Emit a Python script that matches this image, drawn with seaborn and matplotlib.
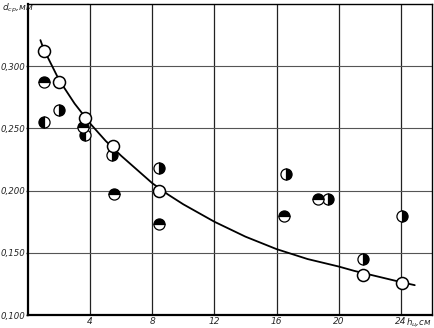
import numpy as np
import matplotlib
matplotlib.use('Agg')
import matplotlib.pyplot as plt
import pandas as pd
import seaborn as sns

# fitted curve
curve_h = [0.8, 1, 2, 3, 4, 5, 6, 7, 8, 9, 10, 11, 12, 13, 14, 15, 16, 17, 18,
           19, 20, 21, 22, 23, 24, 24.9]
curve_d = [0.321, 0.314, 0.289, 0.270, 0.254, 0.240, 0.228, 0.217, 0.206, 0.197,
           0.189, 0.182, 0.175, 0.169, 0.163, 0.158, 0.153, 0.149, 0.145, 0.142,
           0.139, 0.1355, 0.1325, 0.1295, 0.1265, 0.124]

# open circles (on the curve)
open_h = [1.0, 2.0, 3.65, 5.5, 8.45, 21.6, 24.1]
open_d = [0.312, 0.287, 0.258, 0.236, 0.200, 0.132, 0.126]

# half-filled circles, with the side that is black
half_h = [1.0, 1.0, 2.0, 3.55, 3.65, 5.4, 5.55, 8.45, 8.45, 16.6, 16.5, 18.7, 19.3, 21.6, 24.1]
half_d = [0.287, 0.255, 0.265, 0.251, 0.245, 0.229, 0.197, 0.218, 0.173, 0.213, 0.180, 0.193, 0.193, 0.145, 0.180]
half_side = ['top', 'left', 'right', 'top', 'left', 'right', 'top', 'right', 'top',
             'right', 'top', 'top', 'right', 'right', 'right']

xticks = [4, 8, 12, 16, 20, 24]
yticks = [0.100, 0.150, 0.200, 0.250, 0.300]
ytick_labels = ['0,100', '0,150', '0,200', '0,250', '0,300']

curve_df = pd.DataFrame({'h': curve_h, 'd': curve_d})
open_df = pd.DataFrame({'h': open_h, 'd': open_d})
half_df = pd.DataFrame({'h': half_h, 'd': half_d, 'side': half_side})

sns.set_style('white')
plt.rcParams['font.family'] = ['DejaVu Sans']
plt.rcParams['mathtext.fontset'] = 'dejavusans'

fig = plt.figure(figsize=(4.34, 3.28), dpi=100)
ax = fig.add_axes([0.0645, 0.0396, 0.9305, 0.948])

for v in xticks:
    ax.axvline(v, color='#222222', lw=0.9, zorder=1)
for v in yticks[1:]:
    ax.axhline(v, color='#555555', lw=0.8, zorder=1)

sns.lineplot(data=curve_df, x='h', y='d', ax=ax, color='black', lw=1.3,
             sort=False, estimator=None, zorder=3)

for side, grp in half_df.groupby('side'):
    ax.plot(grp['h'], grp['d'], ls='none', marker='o', markersize=8,
            fillstyle=side, markerfacecolor='black', markerfacecoloralt='white',
            markeredgecolor='black', markeredgewidth=0.9, zorder=4)

sns.scatterplot(data=open_df, x='h', y='d', ax=ax, s=75, facecolor='white',
                edgecolor='black', linewidth=1.1, zorder=5)

ax.set_xlim(0, 26)
ax.set_ylim(0.1, 0.35)
ax.set_xticks(xticks)
ax.set_xticklabels([str(v) for v in xticks], fontsize=6.5, style='italic')
ax.set_yticks(yticks)
ax.set_yticklabels(ytick_labels, fontsize=6.2, style='italic')
ax.tick_params(axis='y', length=1.5, width=1, pad=0.3, left=True)
ax.tick_params(axis='x', length=0, pad=1.5)
ax.set_xlabel('')
ax.set_ylabel('')

for s in ['left', 'bottom']:
    ax.spines[s].set_linewidth(1.6)
    ax.spines[s].set_color('black')
for s in ['top', 'right']:
    ax.spines[s].set_linewidth(1.0)
    ax.spines[s].set_color('black')

ax.text(0.999, -0.03, r'$h_{ц}$,см', transform=ax.transAxes, fontsize=6.2,
        style='italic', ha='right', va='baseline')
fig.text(0.005, 0.975, r'$d_{ср}$,мм', fontsize=6.5, style='italic', ha='left', va='center')

fig.savefig('out.png', dpi=100)
